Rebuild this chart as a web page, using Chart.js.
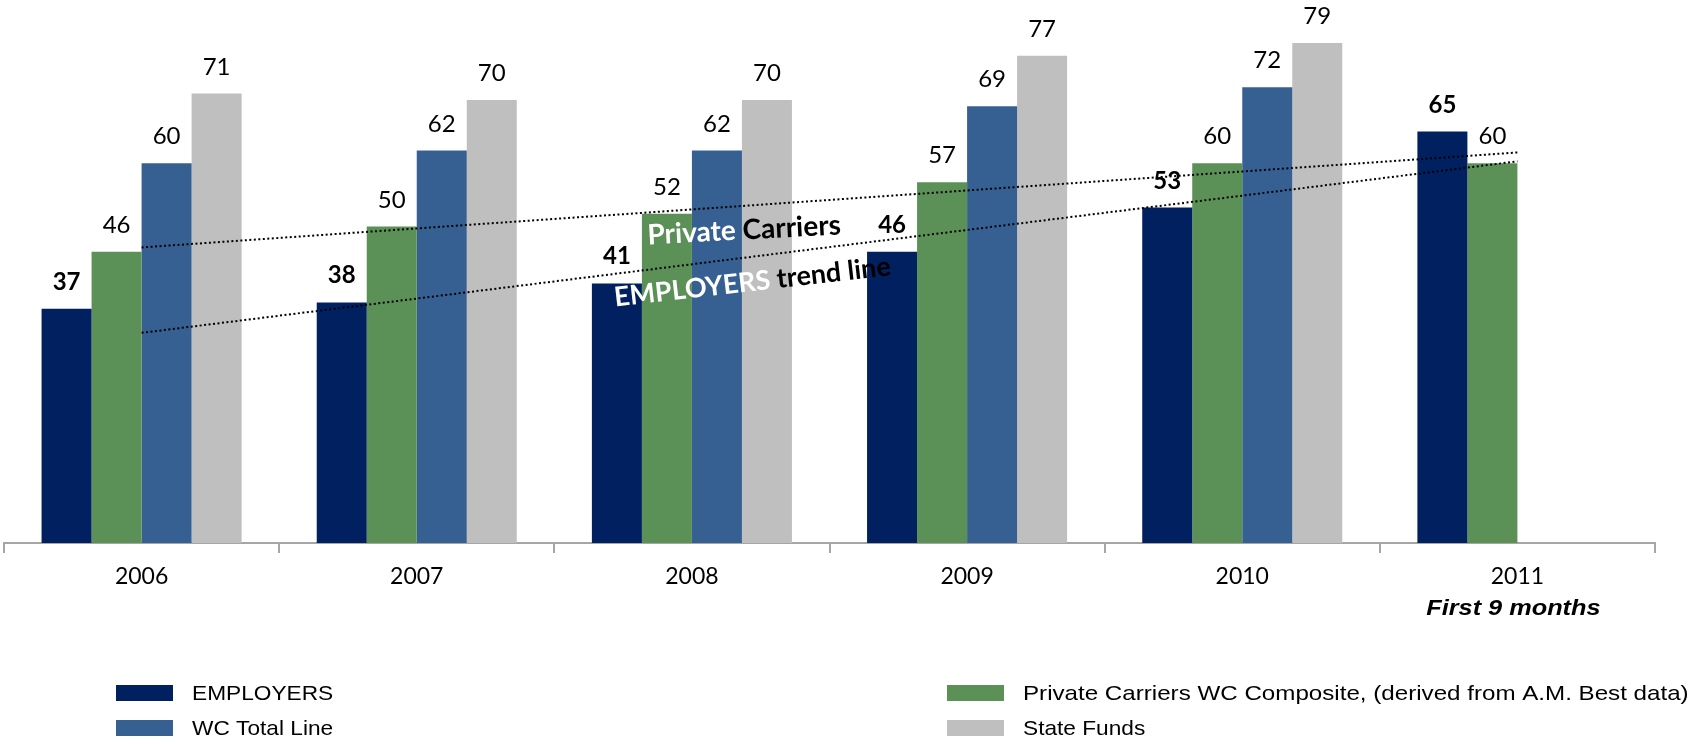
<!DOCTYPE html>
<html>
<head>
<meta charset="utf-8">
<script src="https://cdn.jsdelivr.net/npm/chart.js@4.4.1/dist/chart.umd.min.js"></script>
<style>
  html, body { margin: 0; padding: 0; background: #fff; }
  #wrap { width: 1696px; height: 744px; }
</style>
</head>
<body>
<div id="wrap"><canvas id="chart1" width="1696" height="744"></canvas></div>
<script>
// DATOS
const years = ['2006', '2007', '2008', '2009', '2010', '2011'];
const employers = [37, 38, 41, 46, 53, 65];
const privateCarriers = [46, 50, 52, 57, 60, 60];
const wcTotal = [60, 62, 62, 69, 72, null];
const stateFunds = [71, 70, 70, 77, 79, null];
// trend lines, read at both ends (2006 and 2011)
const privateTrend = [46.7, null, null, null, null, 61.7];
const employersTrend = [33.2, null, null, null, null, 60.3];
const yearNotes = ['', '', '', '', '', 'First 9 months'];

const legendNames = ['EMPLOYERS', 'Private Carriers WC Composite, (derived from A.M. Best data)', 'WC Total Line', 'State Funds'];
const barColors = ['#002060', '#5B9157', '#376092', '#BFBFBF'];

const LABEL_FONT = 'Lato';
const ARIAL = '"Liberation Sans", Arial';

// numbers on top of the bars
const valueLabels = {
  id: 'valueLabels',
  afterDatasetsDraw(chart) {
    const ctx = chart.ctx;
    chart.data.datasets.forEach((ds, i) => {
      if (ds.type === 'line') return;
      const meta = chart.getDatasetMeta(i);
      meta.data.forEach((bar, j) => {
        if (ds.data[j] == null) return;
        ctx.save();
        ctx.font = (i === 0 ? 'bold ' : '') + '24px ' + LABEL_FONT;
        ctx.fillStyle = '#000';
        ctx.textAlign = 'center';
        ctx.textBaseline = 'alphabetic';
        ctx.fillText(String(ds.data[j]), bar.x, bar.y - 19);
        ctx.restore();
      });
    });
  }
};

// rotated captions for the two trend lines
function drawCaption(chart, parts, cat, value, angle, size) {
  const ctx = chart.ctx;
  const x = chart.scales.x;
  const y = chart.scales.y;
  const cx = x.getPixelForDecimal((cat + 0.5) / years.length);
  const cy = y.getPixelForValue(value);
  ctx.save();
  ctx.font = 'bold ' + size + 'px ' + LABEL_FONT;
  ctx.textBaseline = 'middle';
  ctx.textAlign = 'left';
  const total = parts.reduce((w, p) => w + ctx.measureText(p[0]).width, 0);
  ctx.translate(cx, cy);
  ctx.rotate(angle * Math.PI / 180);
  let pos = -total / 2;
  parts.forEach(p => {
    ctx.fillStyle = p[1];
    ctx.fillText(p[0], pos, 0);
    pos += ctx.measureText(p[0]).width;
  });
  ctx.restore();
}

const trendCaptions = {
  id: 'trendCaptions',
  afterDatasetsDraw(chart) {
    drawCaption(chart, [['Private ', '#fff'], ['Carriers', '#000']], 2.19, 49.4, -3, 28);
    drawCaption(chart, [['EMPLOYERS ', '#fff'], ['trend line', '#000']], 2.22, 41.2, -6.5, 27);
  }
};

// second line under the 2011 label + legend in two columns
const extras = {
  id: 'extras',
  afterDraw(chart) {
    const ctx = chart.ctx;
    const x = chart.scales.x;
    ctx.save();
    ctx.fillStyle = '#000';
    ctx.textBaseline = 'middle';
    ctx.textAlign = 'center';
    ctx.font = 'italic bold 22px ' + ARIAL;
    yearNotes.forEach((note, i) => {
      if (!note) return;
      const px = x.getPixelForValue(i) - 4;
      ctx.save();
      ctx.translate(px, 609);
      ctx.scale(1.15, 1);
      ctx.fillText(note, 0, 0);
      ctx.restore();
    });

    const cols = [116, 947];
    const rows = [693, 728];
    ctx.textAlign = 'left';
    ctx.font = '21px ' + ARIAL;
    chart.data.datasets.forEach((ds, i) => {
      if (ds.type === 'line') return;
      const lx = cols[i % 2];
      const ly = rows[Math.floor(i / 2)];
      ctx.fillStyle = ds.backgroundColor;
      ctx.fillRect(lx, ly - 8, 57, 16);
      ctx.fillStyle = '#000';
      ctx.save();
      ctx.translate(lx + 76, ly + 1);
      ctx.scale(i === 1 ? 1.15 : 1.08, 1);
      ctx.fillText(legendNames[i], 0, 0);
      ctx.restore();
    });
    ctx.restore();
  }
};

function barSet(label, data, color) {
  return {
    label: label,
    data: data,
    backgroundColor: color,
    borderWidth: 0,
    barPercentage: 1,
    categoryPercentage: 0.727,
    order: 1
  };
}

function trendSet(label, data) {
  return {
    type: 'line',
    label: label,
    data: data,
    spanGaps: true,
    borderColor: '#000',
    borderWidth: 2,
    borderDash: [2, 2.5],
    pointRadius: 0,
    fill: false,
    order: 0
  };
}

const ctx = document.getElementById('chart1');
new Chart(ctx, {
  type: 'bar',
  data: {
    labels: years,
    datasets: [
      barSet(legendNames[0], employers, barColors[0]),
      barSet(legendNames[1], privateCarriers, barColors[1]),
      barSet(legendNames[2], wcTotal, barColors[2]),
      barSet(legendNames[3], stateFunds, barColors[3]),
      trendSet('Private Carriers trend', privateTrend),
      trendSet('EMPLOYERS trend', employersTrend)
    ]
  },
  options: {
    responsive: false,
    animation: false,
    layout: { padding: { left: 4, right: 41, top: 5, bottom: 0 } },
    plugins: {
      legend: { display: false },
      tooltip: { enabled: false }
    },
    scales: {
      x: {
        grid: {
          display: true,
          drawOnChartArea: false,
          drawTicks: true,
          tickLength: 10,
          color: '#A6A6A6',
          lineWidth: 2,
          offset: true
        },
        border: { display: true, color: '#A6A6A6', width: 2 },
        ticks: {
          color: '#000',
          font: { family: LABEL_FONT, size: 23 },
          padding: 10,
          maxRotation: 0
        },
        afterFit: s => { s.height = 201; }
      },
      y: {
        display: false,
        min: 0,
        max: 85
      }
    }
  },
  plugins: [valueLabels, trendCaptions, extras]
});
</script>
</body>
</html>
